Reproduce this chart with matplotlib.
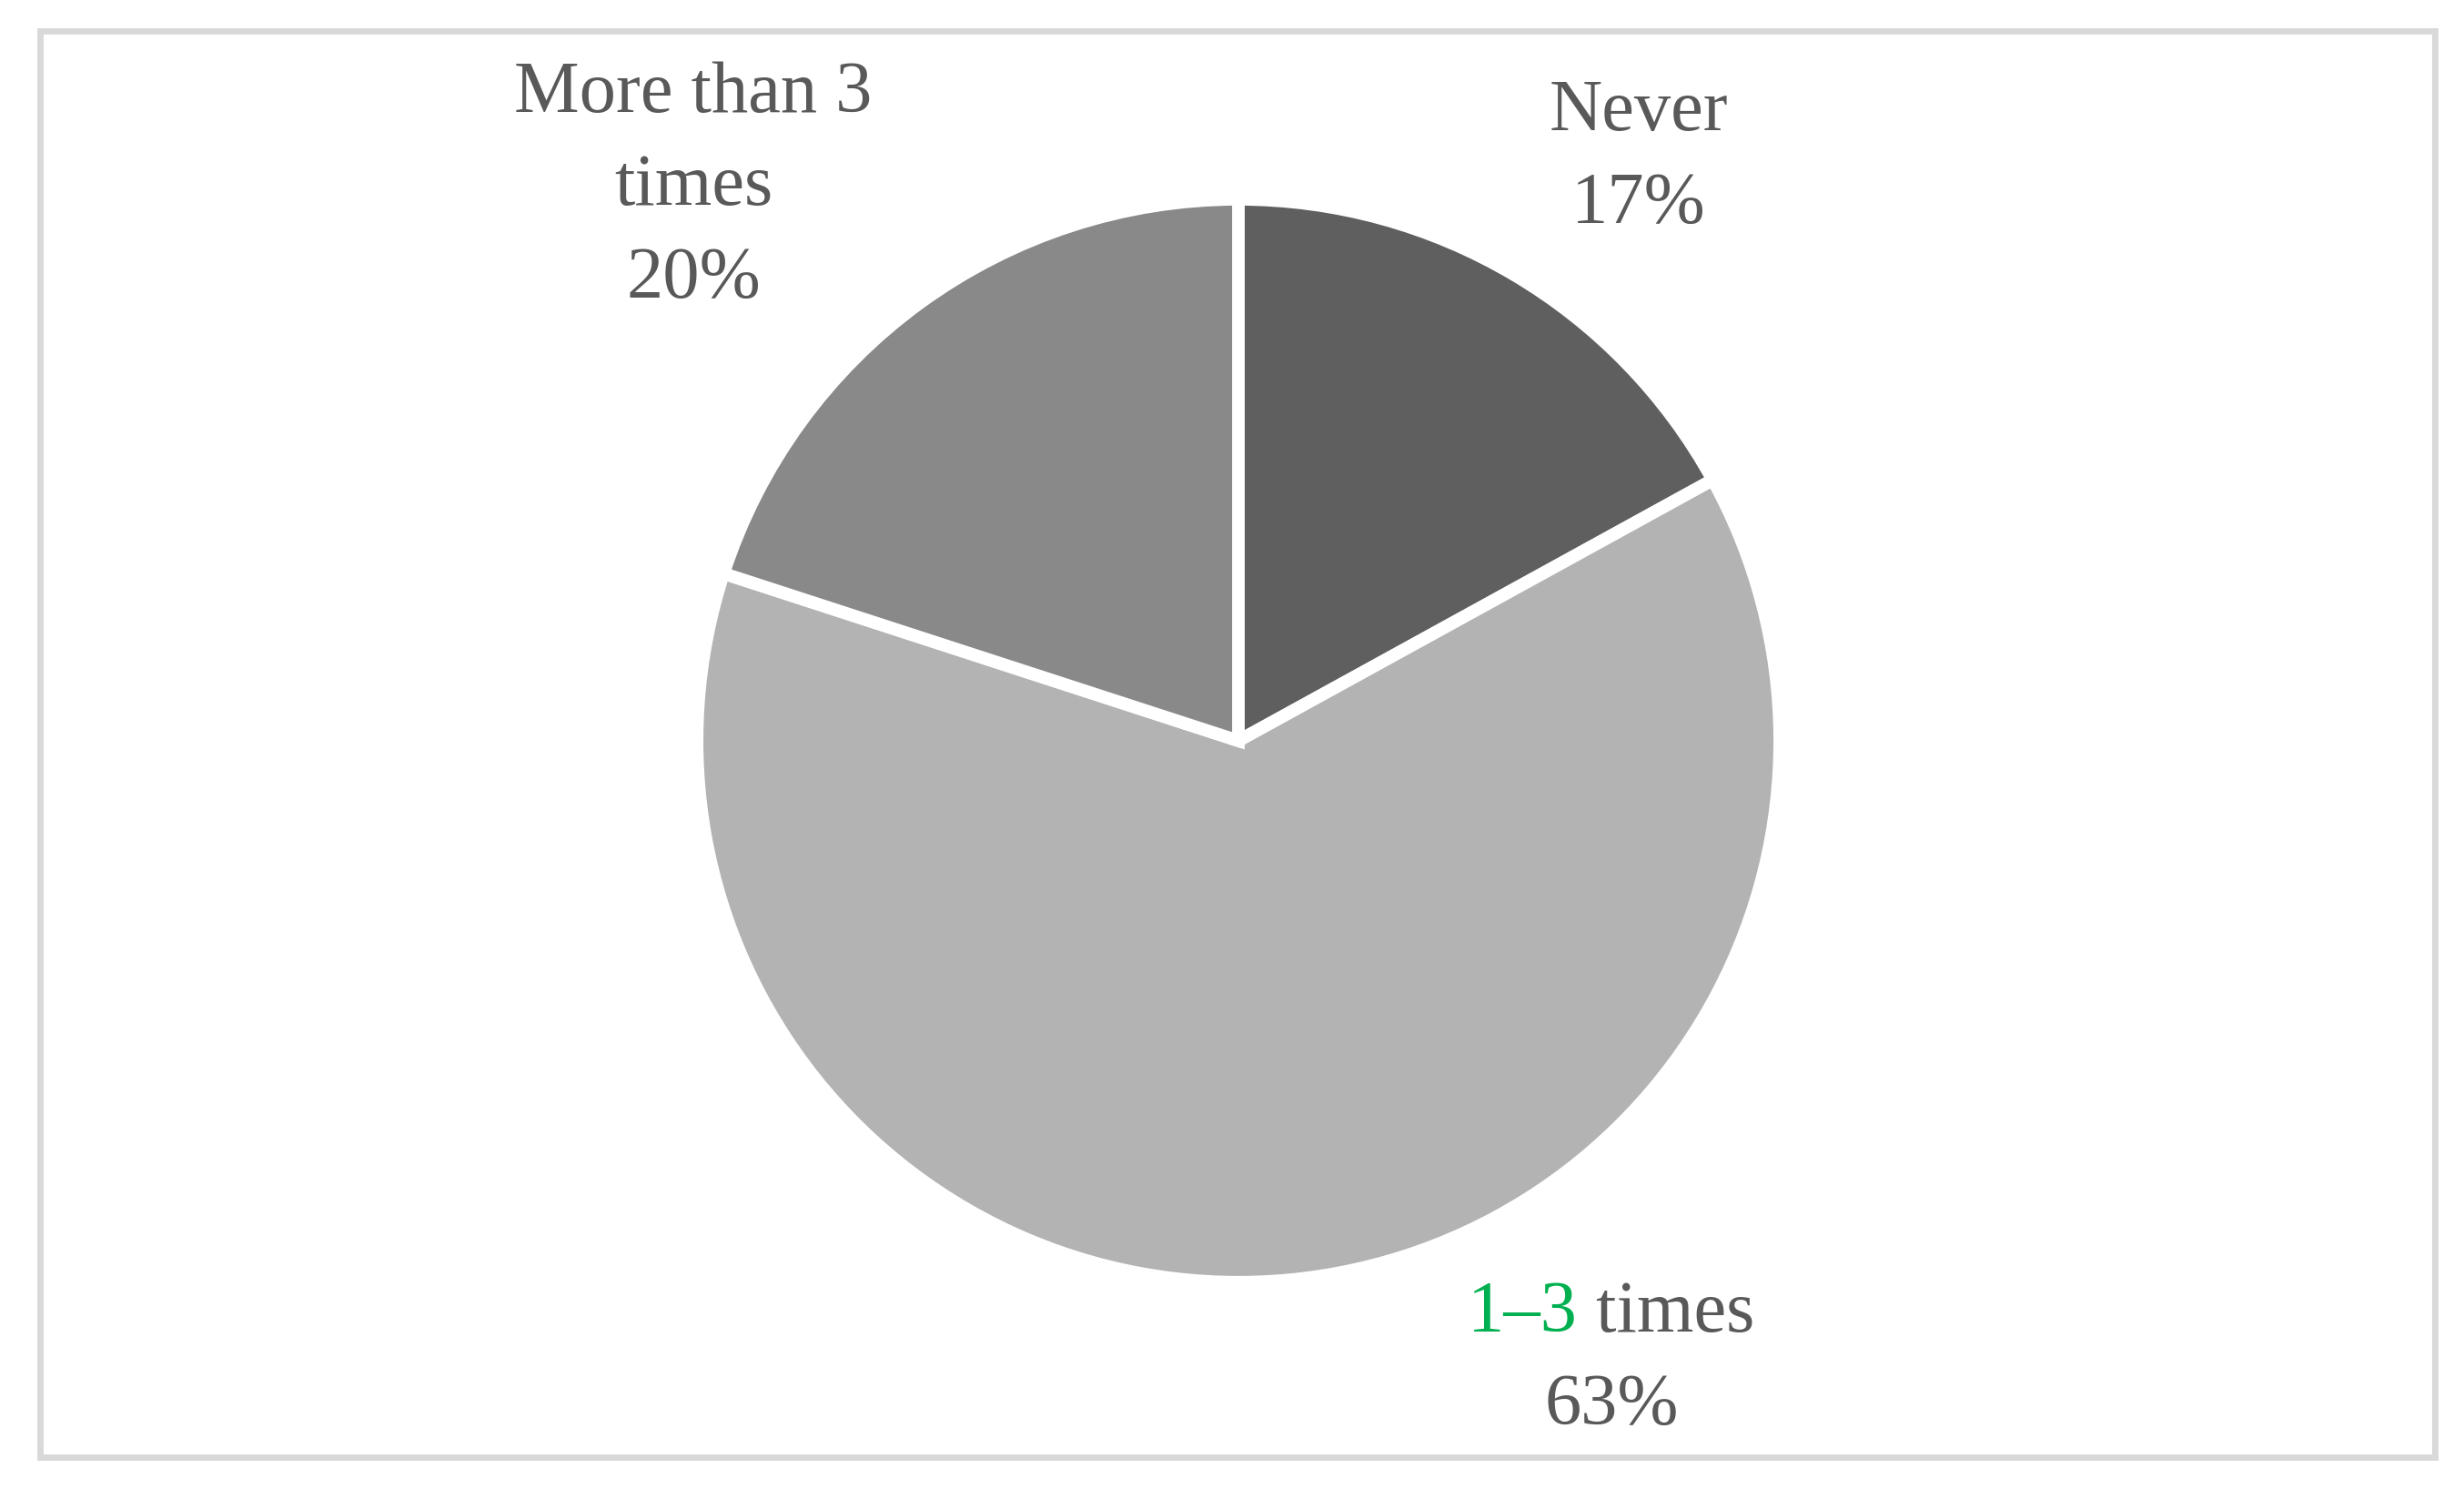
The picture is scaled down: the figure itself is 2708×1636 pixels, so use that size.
import matplotlib
matplotlib.use("Agg")
import matplotlib.pyplot as plt
from matplotlib.patches import Rectangle

# survey answers, clockwise from 12 o'clock
categories = ["Never", "1\u20133 times", "More than 3 times"]
shares = [17, 63, 20]
colors = ["#5f5f5f", "#b3b3b3", "#898989"]

text_color = "#595959"
green = "#00b050"
plt.rcParams["font.family"] = ["Liberation Serif", "DejaVu Serif"]
fs = 58
step = 0.1714  # baseline to baseline, in pie radius units

fig = plt.figure(figsize=(27.08, 16.36), dpi=100)
fig.patch.set_facecolor("white")

# light grey frame around the chart
fig.add_artist(Rectangle((44 / 2708, 1 - 1601 / 1636), (2676 - 44) / 2708, (1601 - 34) / 1636,
                         transform=fig.transFigure, fill=False, edgecolor="#d9d9d9",
                         linewidth=5))

ax = fig.add_axes([0.2829, 0.1388, 0.4394, 0.7274])
wedges, _ = ax.pie(shares, colors=colors, startangle=90, counterclock=False,
                   radius=1.0, wedgeprops=dict(edgecolor="white", linewidth=10))
ax.set_xlim(-1, 1)
ax.set_ylim(-1, 1)
ax.set_aspect("equal")
ax.axis("off")


def put_lines(x, y, lines):
    for i, s in enumerate(lines):
        ax.text(x, y - i * step, s, ha="center", va="baseline", fontsize=fs,
                color=text_color)


# label anchors (first-line baseline), in pie radius units
put_lines(0.739, 1.128, [categories[0], "%d%%" % shares[0]])
put_lines(-1.007, 1.161, ["More than 3", "times", "%d%%" % shares[2]])

# "1–3 times" with the range in green
fig.canvas.draw()
r = fig.canvas.get_renderer()
part1 = ax.text(0, 0, "1\u20133", fontsize=fs)
part2 = ax.text(0, 0, " times", fontsize=fs)
w1 = part1.get_window_extent(r).width
w2 = part2.get_window_extent(r).width
part1.remove()
part2.remove()
lx, ly = 0.689, -1.091
cx, cy = ax.transData.transform((lx, ly))
x0 = cx - (w1 + w2) / 2
inv = ax.transData.inverted()
ax.text(*inv.transform((x0, cy)), "1\u20133", ha="left", va="baseline", fontsize=fs, color=green)
ax.text(*inv.transform((x0 + w1, cy)), " times", ha="left", va="baseline", fontsize=fs,
        color=text_color)
put_lines(lx, ly - step, ["%d%%" % shares[1]])

fig.savefig("out.png", dpi=100, facecolor="white")
